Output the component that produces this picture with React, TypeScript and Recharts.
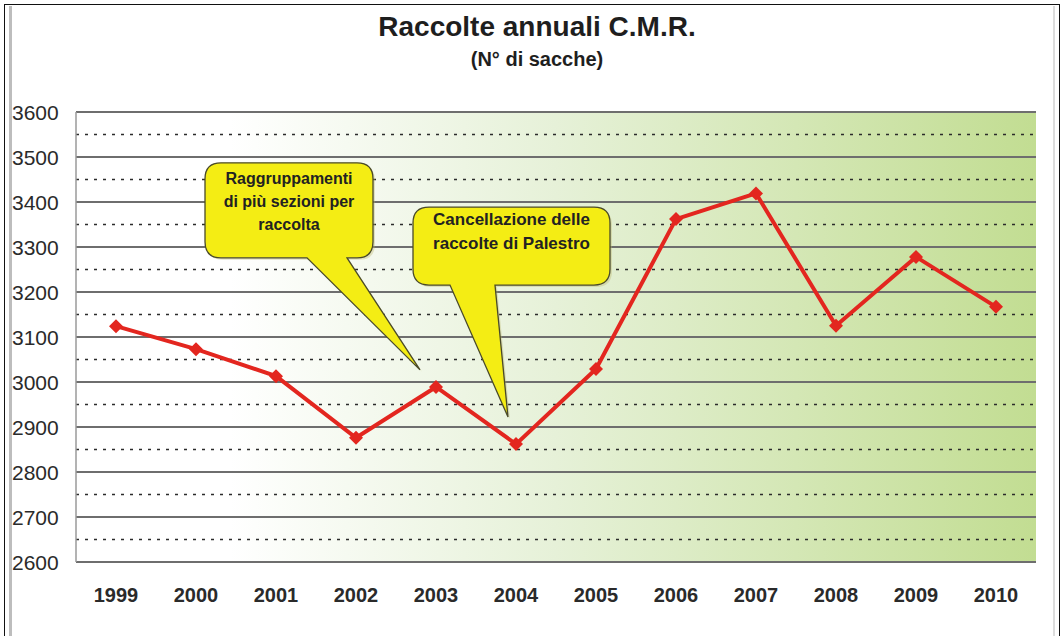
import { LineChart, Line, XAxis, YAxis, CartesianGrid, ReferenceDot, ReferenceLine } from "recharts";

const years = ["1999", "2000", "2001", "2002", "2003", "2004", "2005", "2006", "2007", "2008", "2009", "2010"];
const sacche = [3124, 3073, 3013, 2876, 2989, 2862, 3029, 3362, 3419, 3125, 3278, 3167];
const majorTicks = [2600, 2700, 2800, 2900, 3000, 3100, 3200, 3300, 3400, 3500, 3600];
const minorTicks = [2650, 2750, 2850, 2950, 3050, 3150, 3250, 3350, 3450, 3550];

const calloutYears = ["2003", "2004"];
const calloutValues = [3027, 2922];
const calloutLines = [
  ["Raggruppamenti", "di più sezioni per", "raccolta"],
  ["Cancellazione delle", "raccolte di Palestro"],
];

const FONT = "'Liberation Sans', Arial, sans-serif";

// box geometry relative to the pointer tip, in px
const calloutShapes = [
  { dx: -16, l: -215, r: -47, t: -207, b: -112, p1: -113, p2: -73, fs: 16, lh: 23, ty: -186 },
  { dx: -8, l: -95, r: 102, t: -210, b: -132, p1: -58, p2: -13, fs: 17, lh: 24, ty: -192 },
];

const data = years.map((year, i) => ({ year, sacche: sacche[i] }));

const Diamond = (props: any) => {
  const { cx, cy, index } = props;
  const s = 7;
  return (
    <polygon
      key={index}
      points={`${cx},${cy - s} ${cx + s},${cy} ${cx},${cy + s} ${cx - s},${cy}`}
      fill="#e3261f"
    />
  );
};

const Callout = ({ cx, cy, idx }: any) => {
  const g = calloutShapes[idx];
  const x = cx + g.dx;
  const y = cy;
  const rr = 16;
  const { l, r, t, b, p1, p2 } = g;
  const d = `M${l + rr},${t} H${r - rr} Q${r},${t} ${r},${t + rr} V${b - rr} Q${r},${b} ${r - rr},${b} H${p2} L0,0 L${p1},${b} H${l + rr} Q${l},${b} ${l},${b - rr} V${t + rr} Q${l},${t} ${l + rr},${t} Z`;
  const mid = (l + r) / 2;
  return (
    <g transform={`translate(${x},${y})`}>
      <path d={d} transform="translate(2,2)" fill="#b9b46a" opacity={0.35} />
      <path d={d} fill="#f4ed14" stroke="#4a4a2a" strokeWidth={1.3} />
      {calloutLines[idx].map((line, k) => (
        <text
          key={k}
          x={mid}
          y={g.ty + k * g.lh}
          textAnchor="middle"
          fontFamily={FONT}
          fontWeight="bold"
          fontSize={g.fs}
          fill="#222"
        >
          {line}
        </text>
      ))}
    </g>
  );
};

const YTick = ({ y, payload }: any) => (
  <text x={12} y={y + 8} fontFamily={FONT} fontSize={21} fill="#2a2a2a">
    {payload.value}
  </text>
);

const XTick = ({ x, y, payload }: any) => (
  <text x={x} y={y + 32} textAnchor="middle" fontFamily={FONT} fontWeight="bold" fontSize={20} fill="#2a2a2a">
    {payload.value}
  </text>
);

export default function App() {
  return (
    <div style={{ position: "relative", width: 1062, height: 636, background: "#fff", overflow: "hidden" }}>
      <style>{`body{margin:0}`}</style>
      <div style={{ position: "absolute", left: 4, top: 4, width: 1054, height: 640, borderLeft: "1.5px solid #111", borderTop: "1.5px solid #111", borderRight: "1.5px solid #111" }} />
      <div style={{ position: "absolute", left: 9, top: 6, width: 3, height: 640, background: "#bdbdbd" }} />
      <div style={{ position: "absolute", left: 1053, top: 6, width: 2, height: 640, background: "#dcdcdc" }} />
      <div style={{ position: "absolute", left: 537, top: 13, transform: "translateX(-50%)", whiteSpace: "nowrap", fontFamily: FONT, fontWeight: "bold", fontSize: 28, lineHeight: 1, color: "#1e1e1e" }}>
        Raccolte annuali C.M.R.
      </div>
      <div style={{ position: "absolute", left: 537, top: 49, transform: "translateX(-50%)", whiteSpace: "nowrap", fontFamily: FONT, fontWeight: "bold", fontSize: 20, lineHeight: 1, color: "#1e1e1e" }}>
        (N° di sacche)
      </div>
      <div style={{ position: "absolute", left: 0, top: 0 }}>
        <LineChart width={1062} height={636} data={data} margin={{ top: 112, right: 26, bottom: 0, left: 12 }}>
          <defs>
            <linearGradient id="bg" x1="0" y1="0" x2="1" y2="0">
              <stop offset="0%" stopColor="#ffffff" />
              <stop offset="16%" stopColor="#ffffff" />
              <stop offset="50%" stopColor="#e6f1d8" />
              <stop offset="100%" stopColor="#c2dd92" />
            </linearGradient>
          </defs>
          <CartesianGrid vertical={false} fill="url(#bg)" fillOpacity={1} stroke="#6e6e6e" strokeWidth={2.2} />
          <XAxis dataKey="year" interval={0} padding={{ left: 40, right: 40 }} axisLine={false} tickLine={false} height={74} tick={<XTick />} />
          <YAxis domain={[2600, 3600]} ticks={majorTicks} width={64} axisLine={{ stroke: "#9a9a9a", strokeWidth: 1.5 }} tickLine={false} tick={<YTick />} />
          {minorTicks.map((v) => (
            <ReferenceLine key={v} y={v} stroke="#2b2b2b" strokeWidth={1.6} strokeDasharray="3 6" />
          ))}
          <Line type="linear" dataKey="sacche" stroke="#e3261f" strokeWidth={4} dot={<Diamond />} activeDot={false} isAnimationActive={false} />
          {calloutYears.map((yr, i) => (
            <ReferenceDot
              key={yr}
              x={yr}
              y={calloutValues[i]}
              ifOverflow="visible"
              shape={(p: any) => <Callout cx={p.cx} cy={p.cy} idx={i} />}
            />
          ))}
        </LineChart>
      </div>
    </div>
  );
}
